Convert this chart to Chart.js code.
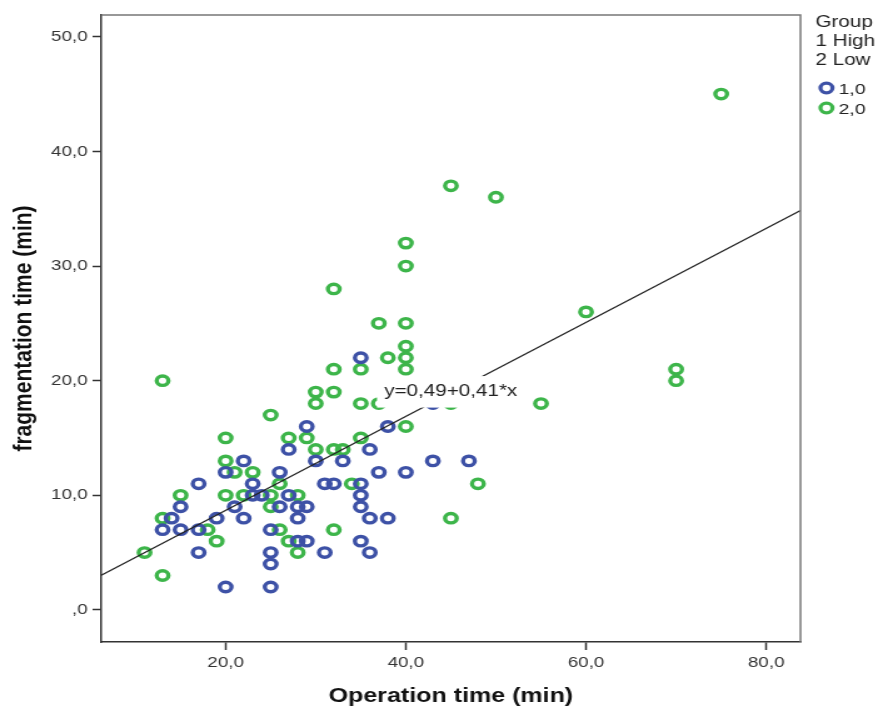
<!DOCTYPE html>
<html>
<head>
<meta charset="utf-8">
<style>
html,body{margin:0;padding:0;background:#fff;overflow:hidden;}
#wrap{width:702px;height:718px;transform:scaleX(1.2507);transform-origin:0 0;}
canvas{display:block;}
</style>
<script src="https://cdn.jsdelivr.net/npm/chart.js@4.4.0/dist/chart.umd.min.js"></script>
</head>
<body>
<div id="wrap"><canvas id="c" width="702" height="718"></canvas></div>
<script>
// ---- data ----
const highX = [35,38,29,27,36,30,33,43,47,37,40,26,31,32,35,35,23,27,35,26,28,29,28,36,38,25,28,29,35,25,31,36,25,25,20,22,20,17,23,24,15,21,14,19,22,13,15,17,17,43];
const highY = [22,16,16,14,14,13,13,13,13,12,12,12,11,11,11,10,11,10,9,9,9,9,8,8,8,7,6,6,6,5,5,5,4,2,2,13,12,11,10,10,9,9,8,8,8,7,7,7,5,18];
const lowX = [75,45,50,40,40,32,60,37,40,40,38,40,32,35,40,70,70,13,30,32,30,35,37,45,55,25,40,20,27,29,35,30,32,33,20,21,23,26,34,48,15,20,22,25,28,25,13,45,18,26,32,19,27,11,28,13];
const lowY = [45,37,36,32,30,28,26,25,25,23,22,22,21,21,21,21,20,20,19,19,18,18,18,18,18,17,16,15,15,15,15,14,14,14,13,12,12,11,11,11,10,10,10,10,10,9,8,8,7,7,7,6,6,5,5,3];
const fitLineX = [6.2, 83.8];
const fitLineY = [3.03, 34.85];
const fitLabel = 'y=0,49+0,41*x';
const xTicks = [20, 40, 60, 80];
const xTickLabels = ['20,0', '40,0', '60,0', '80,0'];
const yTicks = [0, 10, 20, 30, 40, 50];
const yTickLabels = [',0', '10,0', '20,0', '30,0', '40,0', '50,0'];
const legendTitle = ['Group', '1 High', '2 Low'];
const seriesLabels = ['1,0', '2,0'];
const xTitle = 'Operation time (min)';
const yTitle = 'fragmentation time (min)';

const BLUE = '#3d51a6';
const GREEN = '#3db54a';
const FONT = '"Liberation Sans", Arial, sans-serif';

const toPts = (xs, ys) => xs.map((v, i) => ({x: v, y: ys[i]}));

const decor = {
  id: 'decor',
  afterDatasetsDraw(chart) {
    const {ctx, chartArea: a, scales: {x, y}} = chart;
    ctx.save();
    // fit-line label with white box
    const bx0 = x.getPixelForValue(36.8), bx1 = x.getPixelForValue(53.8);
    const by0 = y.getPixelForValue(20.4), by1 = y.getPixelForValue(17.65);
    ctx.fillStyle = '#fff';
    ctx.fillRect(bx0, by0, bx1 - bx0, by1 - by0);
    ctx.fillStyle = '#222';
    ctx.font = '16.5px ' + FONT;
    ctx.textBaseline = 'middle';
    ctx.textAlign = 'left';
    ctx.fillText(fitLabel, x.getPixelForValue(37.6), y.getPixelForValue(19.1));
    // top / right frame
    ctx.strokeStyle = '#777';
    ctx.lineWidth = 1.5;
    ctx.beginPath();
    ctx.moveTo(a.left, a.top);
    ctx.lineTo(a.right, a.top);
    ctx.lineTo(a.right, a.bottom);
    ctx.stroke();
    // legend
    const lx = a.right + 12;
    ctx.fillStyle = '#222';
    ctx.font = '16.5px ' + FONT;
    legendTitle.forEach((t, i) => ctx.fillText(t, lx, 22 + i * 19));
    const cols = [BLUE, GREEN];
    seriesLabels.forEach((t, i) => {
      const cy = 88 + i * 20;
      ctx.beginPath();
      ctx.lineWidth = 3.3;
      ctx.strokeStyle = cols[i];
      ctx.arc(lx + 8.8, cy, 4.8, 0, Math.PI * 2);
      ctx.stroke();
      ctx.fillStyle = '#222';
      ctx.font = '15.5px ' + FONT;
      ctx.fillText(t, lx + 18.5, cy + 1.5);
    });
    ctx.restore();
  }
};

new Chart(document.getElementById('c'), {
  type: 'scatter',
  data: {
    datasets: [
      {
        type: 'line',
        data: toPts(fitLineX, fitLineY),
        borderColor: '#222',
        borderWidth: 1.2,
        pointRadius: 0,
        fill: false,
        showLine: true
      },
      {
        label: seriesLabels[0],
        data: toPts(highX, highY),
        pointRadius: 4.7,
        pointBorderWidth: 3.4,
        pointBackgroundColor: 'rgba(255,255,255,0)',
        pointBorderColor: BLUE,
        borderColor: BLUE
      },
      {
        label: seriesLabels[1],
        data: toPts(lowX, lowY),
        pointRadius: 4.7,
        pointBorderWidth: 3.4,
        pointBackgroundColor: 'rgba(255,255,255,0)',
        pointBorderColor: GREEN,
        borderColor: GREEN
      }
    ]
  },
  options: {
    responsive: false,
    animation: false,
    events: [],
    layout: {padding: {left: 0, right: 62, top: 15, bottom: 0}},
    plugins: {legend: {display: false}, tooltip: {enabled: false}},
    scales: {
      x: {
        type: 'linear',
        min: 6.2,
        max: 83.8,
        afterFit: s => { s.height = 76; s.paddingLeft = 0; s.paddingRight = 0; },
        afterBuildTicks: s => { s.ticks = xTicks.map(v => ({value: v})); },
        ticks: {
          autoSkip: false,
          maxRotation: 0,
          padding: 4,
          color: '#333',
          font: {family: FONT, size: 15},
          callback: v => xTickLabels[xTicks.indexOf(v)]
        },
        grid: {drawOnChartArea: false, drawTicks: true, tickLength: 8, tickColor: '#333', tickWidth: 1.5},
        border: {display: true, color: '#333', width: 1.5},
        title: {
          display: true,
          text: xTitle,
          color: '#111',
          font: {family: FONT, size: 20, weight: 'bold'},
          padding: {top: 0, bottom: 10}
        }
      },
      y: {
        type: 'linear',
        min: -2.8,
        max: 51.9,
        afterFit: s => { s.width = 81; s.paddingTop = 0; s.paddingBottom = 0; },
        afterBuildTicks: s => { s.ticks = yTicks.map(v => ({value: v})); },
        ticks: {
          autoSkip: false,
          padding: 4,
          color: '#333',
          font: {family: FONT, size: 15},
          callback: v => yTickLabels[yTicks.indexOf(v)]
        },
        grid: {drawOnChartArea: false, drawTicks: true, tickLength: 7, tickColor: '#333', tickWidth: 1.5},
        border: {display: true, color: '#333', width: 1.5},
        title: {
          display: true,
          text: yTitle,
          color: '#111',
          font: {family: FONT, size: 21, weight: 'bold'},
          padding: {top: 7, bottom: 0}
        }
      }
    }
  },
  plugins: [decor]
});
</script>
</body>
</html>
